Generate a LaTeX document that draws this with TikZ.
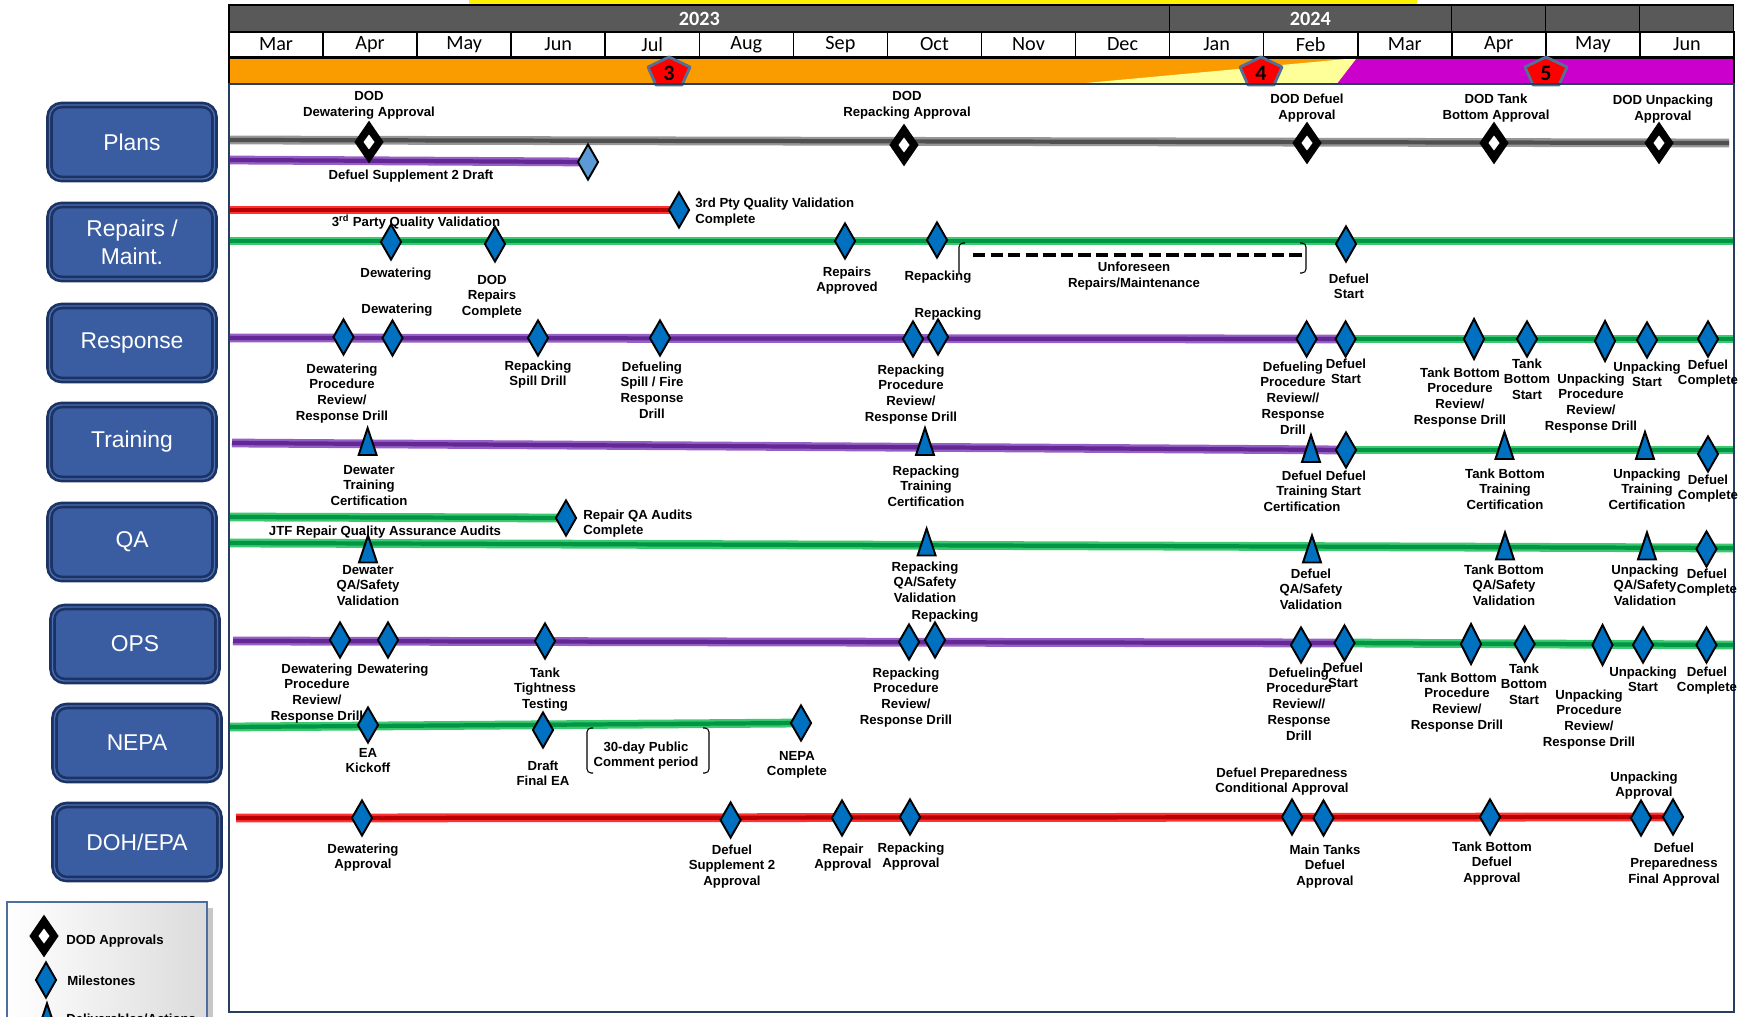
\documentclass[tikz,border=0pt]{standalone}
\usepackage{fontspec}
\setmainfont{Liberation Sans}
\newfontfamily\calfont{Carlito}
\usepackage{tikz}
\usetikzlibrary{shapes.geometric,positioning,backgrounds,shadows}

\definecolor{laneblue}{RGB}{58,93,162}
\definecolor{lanerim}{RGB}{28,50,98}
\definecolor{lanehi}{RGB}{72,110,178}
\definecolor{msblue}{RGB}{0,112,192}
\definecolor{lightms}{RGB}{91,155,213}
\definecolor{yeargrey}{RGB}{89,89,89}
\definecolor{phaseorange}{RGB}{250,155,0}
\definecolor{phaseyellow}{RGB}{255,255,153}
\definecolor{phasemag}{RGB}{204,0,204}
\definecolor{pentrim}{RGB}{84,112,150}
\definecolor{framecol}{RGB}{40,62,95}
\definecolor{legrim}{RGB}{79,110,160}
\definecolor{greyhi}{RGB}{150,150,150}
\definecolor{greylo}{RGB}{80,80,80}
\definecolor{purphi}{RGB}{150,95,195}
\definecolor{purplo}{RGB}{100,40,150}
\definecolor{greenhi}{RGB}{60,200,110}
\definecolor{greenlo}{RGB}{0,150,70}
\definecolor{redhi}{RGB}{255,50,50}
\definecolor{redlo}{RGB}{185,0,0}

% label text, first line on the baseline
\newcommand\ml[1]{\begin{tabular}[t]{@{}c@{}}#1\end{tabular}}
\newcommand\mll[1]{\begin{tabular}[t]{@{}l@{}}#1\end{tabular}}
% deliverable triangle: name, x, y
\newcommand\deliv[3]{\coordinate (#1) at (#2,#3);
  \filldraw[delivtri] (#1) ++(0,-13.5) -- ++(9,27) -- ++(-18,0) -- cycle;}
% phase pentagon: name, x, y, number
\newcommand\phasemark[4]{\coordinate (#1) at (#2,#3);
  \filldraw[phasebox] (#1) ++(0,-14) -- ++(21,10) -- ++(-8,18) -- ++(-26,0) -- ++(-8,-18) -- cycle;
  \node[phasenum] (#1n) at (#2,#3+2) {#4};}

\begin{document}
\begin{tikzpicture}[
    x=0.02cm, y=-0.02cm,
    lane/.style={rectangle, rounded corners=0.24cm, fill=laneblue, draw=lanerim, line width=1.5pt,
        double=lanehi, double distance=0.8pt, minimum width=3.3cm, minimum height=1.48cm,
        drop shadow={shadow xshift=0.05cm, shadow yshift=-0.06cm, opacity=0.35, fill=black},
        text=white, font=\fontsize{13}{16}\selectfont, align=center},
    month/.style={draw=black, line width=0.9pt, fill=white, minimum width=1.8812cm, minimum height=0.5cm,
        inner sep=0pt, font=\calfont\fontsize{11.5}{12}\selectfont},
    yearcell/.style={draw=black, line width=0.9pt, fill=yeargrey, minimum height=0.54cm, inner sep=0pt,
        text=white, font=\calfont\bfseries\fontsize{11.5}{12}\selectfont},
    phasebox/.style={fill=red, draw=pentrim, line width=1.6pt, line join=round},
    phasenum/.style={inner sep=0pt, font=\calfont\bfseries\fontsize{12.5}{13}\selectfont},
    bar/.style={line width=1.3pt, double distance=2.4pt},
    greybar/.style={bar, draw=greyhi, double=greylo},
    purpbar/.style={bar, draw=purphi, double=purplo},
    greenbar/.style={bar, draw=greenhi, double=greenlo},
    redbar/.style={bar, draw=redhi, double=redlo},
    dod/.style={diamond, fill=black, inner sep=0pt, minimum width=0.59cm, minimum height=0.86cm,
        path picture={\fill[white] (path picture bounding box.center) +(0cm,0.15cm) -- +(0.11cm,0cm)
        -- +(0cm,-0.15cm) -- +(-0.11cm,0cm) -- cycle;}},
    ms/.style={diamond, fill=msblue, draw=black, line width=1.1pt, inner sep=0pt,
        minimum width=0.42cm, minimum height=0.72cm},
    mstall/.style={ms, minimum height=0.82cm},
    delivtri/.style={fill=msblue, draw=black, line width=1.1pt, line join=miter},
    lbl/.style={font=\bfseries\fontsize{7.5}{9.1}\selectfont, inner sep=0pt, anchor=base},
    lbll/.style={lbl, anchor=base west},
    bracket/.style={draw=black, line width=0.6pt, rounded corners=0.08cm}
]
\useasboundingbox (0,0) rectangle (1739,1017);
\clip (0,0) rectangle (1739,1017);

% Header: years, months, phases
\fill[yellow] (469,0) rectangle (1417,5.5);
\node[yearcell, minimum width=18.81cm] (yr2023) at (699.3,18.5) {2023};
\node[yearcell, minimum width=5.644cm] (yr2024) at (1310.4,18.5) {2024};
\foreach \i in {0,1,2}
    \node[yearcell, minimum width=1.8812cm] (yrx\i) at ({1498.5+94.06*\i},18.5) {};
\foreach \mname [count=\i from 0] in {Mar,Apr,May,Jun,Jul,Aug,Sep,Oct,Nov,Dec,Jan,Feb,Mar,Apr,May,Jun}
    \node[month] (mon\i) at ({276.03+94.06*\i},44.5) {\mname};
\fill[phaseorange] (229,58) rectangle (1357,84);
\fill[phaseyellow] (1075,84) -- (1357,58) -- (1337,84) -- cycle;
\fill[phasemag] (1357,58) -- (1734,58) -- (1734,84) -- (1337,84) -- cycle;
\draw[line width=0.9pt] (229,58) rectangle (1734,84);
\phasemark{ph3}{669}{71}{3}
\phasemark{ph4}{1261}{71}{4}
\phasemark{ph5}{1546}{71}{5}

% Chart frame
\draw[draw=framecol, line width=1.1pt] (229,84) rectangle (1734,1012);

% Lane titles
\node[lane] (plans) at (132,142) {Plans};
\node[lane] (repairs) at (132,242) {Repairs /\\Maint.};
\node[lane] (response) at (132,343) {Response};
\node[lane] (training) at (132,442) {Training};
\node[lane] (qa) at (132,542) {QA};
\node[lane] (ops) at (135,644) {OPS};
\node[lane] (nepa) at (137,743) {NEPA};
\node[lane] (doh) at (137,842) {DOH/EPA};

% Bar end points
\coordinate (gs) at (229,140);   \coordinate (ge) at (1729,143);
\coordinate (pps) at (229,160);
\coordinate (rrs) at (229,210);
\coordinate (rgs) at (229,241);  \coordinate (rge) at (1734,241);
\coordinate (sps) at (229,338);  \coordinate (spe) at (1734,339);
\coordinate (tps) at (232,443);  \coordinate (tpe) at (1734,450);
\coordinate (qus) at (229,517);
\coordinate (qls) at (229,543);  \coordinate (qle) at (1734,548);
\coordinate (ops0) at (233,641); \coordinate (ope) at (1734,645);
\coordinate (nes) at (229,727);
\coordinate (dhs) at (236,818);

% Plans
\node[dod] (pd1) at (369,142) {};
\node[dod] (pd2) at (904,145) {};
\node[dod] (pd3) at (1307,143) {};
\node[dod] (pd4) at (1494,143) {};
\node[dod] (pd5) at (1659,143) {};
\node[ms, fill=lightms] (plb) at (588,162) {};
\node[lbl] (pd1l) at (369,101) {\ml{DOD\\Dewatering Approval}};
\node[lbl] (pd2l) at (907,101) {\ml{DOD\\Repacking Approval}};
\node[lbl] (pd3l) at (1307,104) {\ml{DOD Defuel\\Approval}};
\node[lbl] (pd4l) at (1496,104) {\ml{DOD Tank\\Bottom Approval}};
\node[lbl] (pd5l) at (1663,105) {\ml{DOD Unpacking\\Approval}};
\node[lbl] (plbl) at (411,179) {Defuel Supplement 2 Draft};

% Repairs / Maint.
\node[ms] (rq) at (679,210) {};
\node[ms] (rg1) at (391,242) {};
\node[ms] (rg2) at (495,244) {};
\node[ms] (rg3) at (845,241) {};
\node[ms] (rg4) at (937,240) {};
\node[ms] (rg5) at (1346,244) {};
\node[lbl] (rqa) at (416,227) {3\textsuperscript{rd} Party Quality Validation};
\node[lbll] (rql) at (695,208) {\mll{3rd Pty Quality Validation\\Complete}};
\node[lbl] (rg1l) at (396,277) {Dewatering};
\node[lbl] (rg2l) at (492,284) {\ml{DOD\\Repairs\\Complete}};
\node[lbl] (rg3l) at (847,276) {\ml{Repairs\\Approved}};
\node[lbl] (rg4l) at (938,280) {Repacking};
\node[lbl] (rufl) at (1134,272) {\ml{Unforeseen\\Repairs/Maintenance}};
\node[lbl] (rg5l) at (1349,283) {\ml{Defuel\\Start}};
\coordinate (dsh1) at (973,255); \coordinate (dsh2) at (1304,255);
\draw[line width=2pt, dash pattern=on 7pt off 3pt] (dsh1) -- (dsh2);
\draw[bracket] (965,243) -| (959,273);
\draw[bracket] (1300,243) -| (1306,273) -- (1300,273);

% Response
\node[ms] (sp1) at (343.5,337) {};
\node[ms] (sp2) at (392.5,338) {};
\node[ms] (sp3) at (538,338) {};
\node[ms] (sp4) at (660,338) {};
\node[ms] (sp5) at (913,339) {};
\node[ms] (sp6) at (938,337) {};
\node[ms] (sp7) at (1306.6,339) {};
\node[ms] (sp8) at (1345.6,339) {};
\node[mstall] (sp9) at (1474,339) {};
\node[ms] (sp10) at (1527,339) {};
\node[mstall] (sp11) at (1605,341) {};
\node[ms] (sp12) at (1647,340) {};
\node[ms] (sp13) at (1708,339) {};
\node[lbl] (sp2l) at (397,313) {Dewatering};
\node[lbl] (sp1l) at (342,373) {\ml{Dewatering\\Procedure\\Review/\\Response Drill}};
\node[lbl] (sp3l) at (538,370) {\ml{Repacking\\Spill Drill}};
\node[lbl] (sp4l) at (652,371) {\ml{Defueling\\Spill / Fire\\Response\\Drill}};
\node[lbl] (sp6l) at (948,317) {Repacking};
\node[lbl] (sp5l) at (911,374) {\ml{Repacking\\Procedure\\Review/\\Response Drill}};
\node[lbl] (sp7l) at (1293,371) {\ml{Defueling\\Procedure\\Review//\\Response\\Drill}};
\node[lbl] (sp8l) at (1346,368) {\ml{Defuel\\Start}};
\node[lbl] (sp9l) at (1460,377) {\ml{Tank Bottom\\Procedure\\Review/\\Response Drill}};
\node[lbl] (sp10l) at (1527,368) {\ml{Tank\\Bottom\\Start}};
\node[lbl] (sp11l) at (1591,383) {\ml{Unpacking\\Procedure\\Review/\\Response Drill}};
\node[lbl] (sp12l) at (1647,371) {\ml{Unpacking\\Start}};
\node[lbl] (sp13l) at (1708,369) {\ml{Defuel\\Complete}};

% Training
\deliv{tt1}{367.6}{441.5}
\deliv{tt2}{925}{441.5}
\deliv{tt3}{1311}{448.5}
\deliv{tt4}{1504.5}{445.5}
\deliv{tt5}{1645}{445.5}
\node[ms] (td1) at (1346,450) {};
\node[ms] (td2) at (1708,454) {};
\node[lbl] (tt1l) at (369,474) {\ml{Dewater\\Training\\Certification}};
\node[lbl] (tt2l) at (926,475) {\ml{Repacking\\Training\\Certification}};
\node[lbl] (tt3l) at (1302,480) {\ml{Defuel\\Training\\Certification}};
\node[lbl] (td1l) at (1346,480) {\ml{Defuel\\Start}};
\node[lbl] (tt4l) at (1505,478) {\ml{Tank Bottom\\Training\\Certification}};
\node[lbl] (tt5l) at (1647,478) {\ml{Unpacking\\Training\\Certification}};
\node[lbl] (td2l) at (1708,484) {\ml{Defuel\\Complete}};

% QA
\node[ms] (qa0) at (566,518) {};
\deliv{qt1}{368}{549}
\deliv{qt2}{926.6}{542}
\deliv{qt3}{1312}{549}
\deliv{qt4}{1505}{546}
\deliv{qt5}{1647}{546}
\node[ms] (qd1) at (1706.5,549) {};
\node[lbll] (qa0l) at (583,519) {\mll{Repair QA Audits\\Complete}};
\node[lbl] (qjtf) at (385,535) {JTF Repair Quality Assurance Audits};
\node[lbl] (qt1l) at (368,574) {\ml{Dewater\\QA/Safety\\Validation}};
\node[lbl] (qt2l) at (925,571) {\ml{Repacking\\QA/Safety\\Validation}};
\node[lbl] (qt3l) at (1311,578) {\ml{Defuel\\QA/Safety\\Validation}};
\node[lbl] (qt4l) at (1504,574) {\ml{Tank Bottom\\QA/Safety\\Validation}};
\node[lbl] (qt5l) at (1645,574) {\ml{Unpacking\\QA/Safety\\Validation}};
\node[lbl] (qd1l) at (1707,578) {\ml{Defuel\\Complete}};

% OPS
\node[ms] (op1) at (340,640) {};
\node[ms] (op2) at (388,640) {};
\node[ms] (op3) at (545,641) {};
\node[ms] (op4) at (909,642) {};
\node[ms] (op5) at (935,640) {};
\node[ms] (op6) at (1301,645) {};
\node[ms] (op7) at (1344.5,643) {};
\node[mstall] (op8) at (1471,644) {};
\node[ms] (op9) at (1524.6,644) {};
\node[mstall] (op10) at (1602.5,645) {};
\node[ms] (op11) at (1643,645) {};
\node[ms] (op12) at (1706.5,645) {};
\node[lbl] (op5l) at (945,619) {Repacking};
\node[lbl] (op1l) at (317,673) {\ml{Dewatering\\Procedure\\Review/\\Response Drill}};
\node[lbl] (op2l) at (393,673) {Dewatering};
\node[lbl] (op3l) at (545,677) {\ml{Tank\\Tightness\\Testing}};
\node[lbl] (op4l) at (906,677) {\ml{Repacking\\Procedure\\Review/\\Response Drill}};
\node[lbl] (op6l) at (1299,677) {\ml{Defueling\\Procedure\\Review//\\Response\\Drill}};
\node[lbl] (op7l) at (1343,672) {\ml{Defuel\\Start}};
\node[lbl] (op8l) at (1457,682) {\ml{Tank Bottom\\Procedure\\Review/\\Response Drill}};
\node[lbl] (op9l) at (1524,673) {\ml{Tank\\Bottom\\Start}};
\node[lbl] (op10l) at (1589,699) {\ml{Unpacking\\Procedure\\Review/\\Response Drill}};
\node[lbl] (op11l) at (1643,676) {\ml{Unpacking\\Start}};
\node[lbl] (op12l) at (1707,676) {\ml{Defuel\\Complete}};

% NEPA
\node[ms] (ne1) at (368,725) {};
\node[ms] (ne2) at (543,730) {};
\node[ms] (ne3) at (801,723) {};
\node[lbl] (ne1l) at (368,757) {\ml{EA\\Kickoff}};
\node[lbl] (ne2l) at (543,770) {\ml{Draft\\Final EA}};
\node[lbl] (ne3l) at (797,760) {\ml{NEPA\\Complete}};
\node[lbl] (necm) at (646,751) {\ml{30-day Public\\Comment period}};
\draw[bracket] (593,728) -| (587,773) -- (593,773);
\draw[bracket] (703,728) -| (709,773) -- (703,773);

% DOH/EPA
\node[ms] (dh1) at (362,818) {};
\node[ms] (dh2) at (730.6,820) {};
\node[ms] (dh3) at (842,818) {};
\node[ms] (dh4) at (910,817) {};
\node[ms] (dh5) at (1292,817) {};
\node[ms] (dh6) at (1323.5,818) {};
\node[ms] (dh7) at (1490,817) {};
\node[ms] (dh8) at (1641,818) {};
\node[ms] (dh9) at (1673,817) {};
\node[lbl] (dh1l) at (363,853) {\ml{Dewatering\\Approval}};
\node[lbl] (dh2l) at (732,854) {\ml{Defuel\\Supplement 2\\Approval}};
\node[lbl] (dh3l) at (843,853) {\ml{Repair\\Approval}};
\node[lbl] (dh4l) at (911,852) {\ml{Repacking\\Approval}};
\node[lbl] (dh5l) at (1282,777) {\ml{Defuel Preparedness\\Conditional Approval}};
\node[lbl] (dh6l) at (1325,854) {\ml{Main Tanks\\Defuel\\Approval}};
\node[lbl] (dh7l) at (1492,851) {\ml{Tank Bottom\\Defuel\\Approval}};
\node[lbl] (dh8l) at (1644,781) {\ml{Unpacking\\Approval}};
\node[lbl] (dh9l) at (1674,852) {\ml{Defuel\\Preparedness\\Final Approval}};

% Bars, behind the markers
\begin{pgfonlayer}{background}
\draw[greybar] (gs) -- (ge);
\draw[purpbar] (pps) -- (plb.center);
\draw[redbar] (rrs) -- (rq.center);
\draw[greenbar] (rgs) -- (rge);
\draw[purpbar] (sps) -- (sp8.center);
\draw[greenbar] (sp8.center) -- (spe);
\draw[purpbar] (tps) -- (td1.center);
\draw[greenbar] (td1.center) -- (tpe);
\draw[greenbar] (qus) -- (qa0.center);
\draw[greenbar] (qls) -- (qle);
\draw[purpbar] (ops0) -- (op7.center);
\draw[greenbar] (op7.center) -- (ope);
\draw[greenbar] (nes) -- (ne3.center);
\draw[redbar] (dhs) -- (dh9.center);
\end{pgfonlayer}

% Legend
\fill[black!22] (207,908) rectangle (213,1017);
\shade[left color=white, right color=black!14] (7,902) rectangle (207,1030);
\draw[draw=legrim, line width=1.1pt] (7,902) rectangle (207,1030);
\node[dod] (lg1) at (44,936) {};
\node[ms] (lg2) at (46,980) {};
\deliv{lg3}{47}{1017}
\node[lbll] (lg1l) at (66,944) {DOD Approvals};
\node[lbll] (lg2l) at (67,985) {Milestones};
\node[lbll] (lg3l) at (66,1023) {Deliverables/Actions};

\end{tikzpicture}
\end{document}
